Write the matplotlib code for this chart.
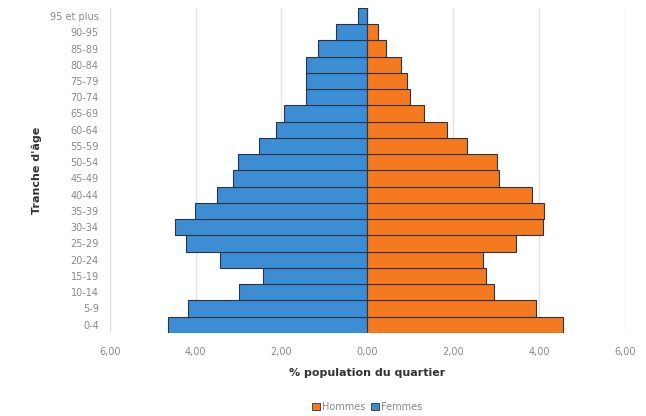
import matplotlib
matplotlib.use("Agg")
import matplotlib.pyplot as plt
from matplotlib.ticker import FuncFormatter
from matplotlib.patches import Patch

categories = ["0-4", "5-9", "10-14", "15-19", "20-24", "25-29", "30-34", "35-39",
              "40-44", "45-49", "50-54", "55-59", "60-64", "65-69", "70-74",
              "75-79", "80-84", "85-89", "90-95", "95 et plus"]
femmes = [4.64, 4.17, 3.00, 2.42, 3.43, 4.23, 4.47, 4.01, 3.50, 3.12,
          3.02, 2.52, 2.13, 1.93, 1.43, 1.43, 1.43, 1.15, 0.72, 0.21]
hommes = [4.57, 3.93, 2.95, 2.76, 2.70, 3.47, 4.10, 4.13, 3.85, 3.07,
          3.03, 2.33, 1.86, 1.32, 0.99, 0.93, 0.78, 0.43, 0.25, 0.0]
xticks = [-6, -4, -2, 0, 2, 4, 6]

blue = "#3d8dd5"
orange = "#f5791f"
edge = "#2b3440"

fig = plt.figure(figsize=(6.46, 4.16), dpi=100)
ax = fig.add_axes([0.170, 0.200, 0.797, 0.781])

y = list(range(len(categories)))
ax.barh(y, [-v for v in femmes], height=1.0, color=blue, edgecolor=edge, linewidth=0.8, zorder=3)
ax.barh(y, hommes, height=1.0, color=orange, edgecolor=edge, linewidth=0.8, zorder=3)

ax.set_xlim(-6, 6)
ax.set_ylim(-0.5, len(categories) - 0.5)
ax.set_xticks(xticks)
ax.xaxis.set_major_formatter(FuncFormatter(lambda v, p: f"{abs(v):.2f}".replace(".", ",")))
ax.set_yticks(y)
ax.set_yticklabels(categories)
ax.grid(axis="x", color="#e3e3e3", linewidth=1.0, zorder=0)
for s in ax.spines.values():
    s.set_visible(False)
ax.tick_params(axis="both", length=0, labelsize=7, labelcolor="#8a8a8a")
ax.tick_params(axis="x", pad=10)
ax.tick_params(axis="y", pad=8)

ax.set_xlabel("% population du quartier", fontsize=8, fontweight="bold", color="#333333", labelpad=8)
ax.set_ylabel("Tranche d'âge", fontsize=8, fontweight="bold", color="#333333", labelpad=6)

handles = [Patch(facecolor=orange, edgecolor=edge, linewidth=0.6, label="Hommes"),
           Patch(facecolor=blue, edgecolor=edge, linewidth=0.6, label="Femmes")]
fig.legend(handles=handles, loc="center", bbox_to_anchor=(0.568, 0.022), ncol=2, frameon=False,
           fontsize=7, labelcolor="#8a8a8a", handlelength=0.8, handleheight=0.8,
           handletextpad=0.2, columnspacing=0.6)

fig.savefig("out.png", dpi=100)
